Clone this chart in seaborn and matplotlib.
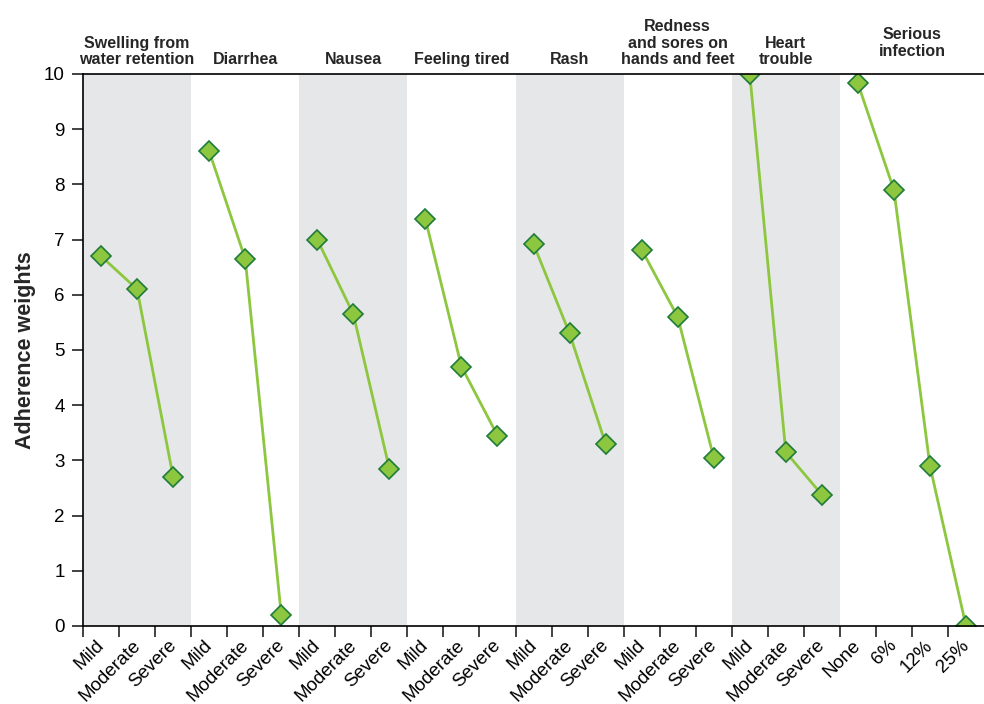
import pandas as pd
import matplotlib.pyplot as plt
import matplotlib.transforms as mtransforms
import seaborn as sns

groups = ["Swelling from\nwater retention", "Diarrhea", "Nausea", "Feeling tired",
          "Rash", "Redness\nand sores on\nhands and feet", "Heart\ntrouble", "Serious\ninfection"]
sev = ["Mild", "Moderate", "Severe"]
levels = [sev, sev, sev, sev, sev, sev, sev, ["None", "6%", "12%", "25%"]]
weights = [
    [6.70, 6.10, 2.70],
    [8.60, 6.65, 0.20],
    [7.00, 5.65, 2.85],
    [7.37, 4.70, 3.45],
    [6.92, 5.30, 3.30],
    [6.82, 5.60, 3.05],
    [10.0, 3.15, 2.38],
    [9.83, 7.90, 2.90, 0.0],
]

rows = []
slot = 0
for g, lv, w in zip(groups, levels, weights):
    for name, val in zip(lv, w):
        rows.append({"group": g, "level": name, "slot": slot, "pos": slot + 0.5, "weight": val})
        slot += 1
df = pd.DataFrame(rows)

sns.set_theme(style="white")
plt.rcParams["font.family"] = ["Liberation Sans", "DejaVu Sans"]

fig, ax = plt.subplots(figsize=(9.84, 7.04), dpi=100)
fig.subplots_adjust(left=0.0844, right=1.0, top=0.8949, bottom=0.1108)

# shaded bands for every other group
start = 0
for i, lv in enumerate(levels):
    if i % 2 == 0:
        ax.axvspan(start, start + len(lv), color="#e6e7e8", zorder=0, lw=0)
    start += len(lv)

sns.lineplot(data=df, x="pos", y="weight", units="group", estimator=None, sort=False,
             color="#8dc63f", lw=2, marker="D", markersize=10,
             markerfacecolor="#8dc63f", markeredgecolor="#1e7b3c", markeredgewidth=1.2,
             ax=ax, legend=False)

ax.set_xlim(0, len(df))
ax.set_ylim(0, 10)
ax.set_yticks(range(0, 11))
ax.set_xticks(df["slot"])
ax.set_xticklabels(df["level"], rotation=45, ha="right", va="top", rotation_mode="anchor")
ax.tick_params(axis="both", labelsize=13.5, colors="#222222", length=8, width=1.2,
               direction="out", bottom=True, left=True)
ax.tick_params(axis="y", pad=5)
ax.tick_params(axis="x", pad=2)
shift = mtransforms.ScaledTranslation(9 / 72, 2 / 72, fig.dpi_scale_trans)
for lab in ax.get_xticklabels():
    lab.set_color("black")
    lab.set_transform(lab.get_transform() + shift)
for lab in ax.get_yticklabels():
    lab.set_color("black")

ax.set_xlabel("")
ax.set_ylabel("Adherence weights", fontsize=15.5, fontweight="bold", labelpad=6)

for s in ["left", "bottom", "top"]:
    ax.spines[s].set_visible(True)
    ax.spines[s].set_color("black")
    ax.spines[s].set_linewidth(1.2)
ax.spines["right"].set_visible(False)

# group titles above the plot
start = 0
for i, (g, lv) in enumerate(zip(groups, levels)):
    off = 0.27 if i == len(groups) - 1 else 0.12
    ax.text(start + len(lv) / 2, 10 + off, g, ha="center", va="bottom",
            fontsize=11.5, fontweight="bold", linespacing=1.15, clip_on=False)
    start += len(lv)

fig.savefig("out.png", dpi=100)
